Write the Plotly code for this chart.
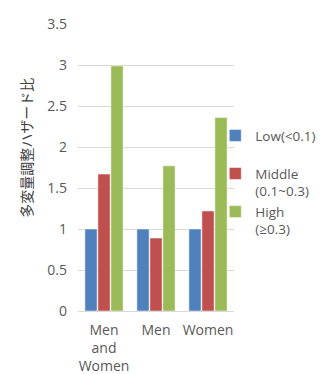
import plotly.graph_objects as go

categories = ["Men<br>and<br>Women", "Men", "Women"]
series_names = ["Low(<0.1)<br>\u00a0", "Middle<br>(0.1~0.3)", "High<br>(≥0.3)"]
low_vals = [1.0, 1.0, 1.0]
middle_vals = [1.67, 0.89, 1.22]
high_vals = [2.99, 1.77, 2.36]
colors = ["#4F81BD", "#C0504D", "#9BBB59"]
y_ticks = [0, 0.5, 1, 1.5, 2, 2.5, 3, 3.5]
y_ticktext = ["0", "0.5", "1", "1.5", "2", "2.5", "3", "3.5"]
y_title = "多変量調整ハザード比"

fig = go.Figure()
for name, vals, c in zip(series_names, [low_vals, middle_vals, high_vals], colors):
    fig.add_trace(go.Bar(
        x=categories, y=vals, name=name,
        marker=dict(color=c, line=dict(color="white", width=0.5)),
    ))

font_fam = "Open Sans, Noto Sans, sans-serif"
fig.update_layout(
    width=323, height=374,
    margin=dict(l=78, r=89, t=24, b=63, autoexpand=False),
    paper_bgcolor="white", plot_bgcolor="white",
    barmode="group", bargap=0.25, bargroupgap=0.06,
    font=dict(family=font_fam, size=14, color="#595959"),
    showlegend=True,
    legend=dict(
        x=0.88, y=0.665, xanchor="left", yanchor="top",
        itemwidth=30, valign="top", tracegroupgap=0,
        font=dict(size=13.5, color="#595959"),
        bgcolor="rgba(0,0,0,0)",
        itemclick=False,
    ),
    xaxis=dict(
        showgrid=False, showline=True, linecolor="#D9D9D9", linewidth=1,
        ticks="", tickfont=dict(size=14, color="#595959"),
        ticklabelstandoff=6, automargin=False,
    ),
    yaxis=dict(
        range=[0, 3.5], tickvals=y_ticks, ticktext=y_ticktext,
        showgrid=True, gridcolor="#D9D9D9", gridwidth=1,
        zeroline=False, showline=False, ticks="",
        tickfont=dict(size=14, color="#595959"), ticklabelstandoff=10,
        automargin=False,
    ),
    annotations=[dict(
        text=y_title, textangle=-90, showarrow=False,
        xref="paper", yref="paper", x=-0.335, y=0.568,
        xanchor="center", yanchor="middle",
        font=dict(family="Noto Sans CJK JP", size=14, color="#404040"),
    )],
)

fig.write_html("out.html")
